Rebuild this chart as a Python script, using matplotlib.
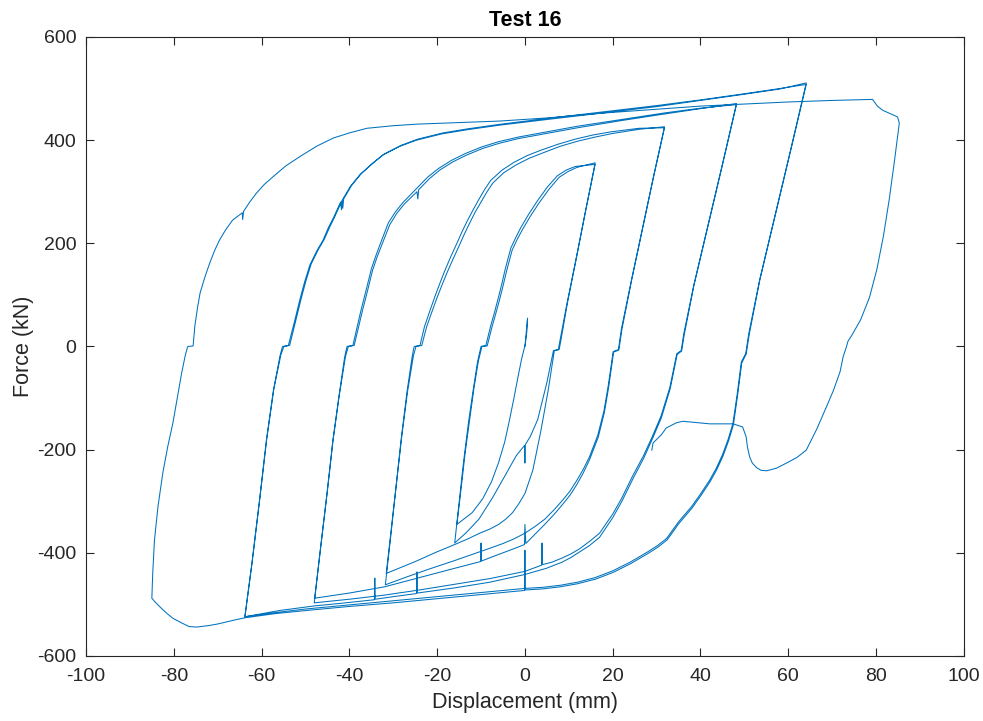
import matplotlib
matplotlib.use("Agg")
import matplotlib.pyplot as plt
import numpy as np

# ---------------- data: (displacement mm, force kN) per branch ----------------
V = [(0, 0), (0.3, 28), (0.6, 55), (0.45, 30), (0.1, 5), (-0.4, -12), (-0.8, -26), (-1.6, -60),
     (-2.5, -100), (-3.5, -142), (-4.6, -185), (-6, -225), (-7.6, -262), (-9.6, -295), (-12, -322), (-15.5, -345)]
U1a = [(-15.5, -345), (-14.6, -280), (-13.6, -205), (-12.6, -142), (-11.6, -80), (-10.6, -28), (-9.9, -3),
       (-9.8, 0), (-8.6, 1), (-7.5, 38), (-6.6, 65), (-5.8, 90), (-5, 117), (-4.3, 142), (-3.6, 165),
       (-2.9, 187), (-1.8, 207), (-0.6, 226), (1.2, 252), (3.2, 278), (5.5, 305), (7.8, 328), (9.8, 339),
       (11.8, 347), (14, 352), (16, 356)]
L1a = [(16, 356), (13.8, 262), (11.6, 168), (9.5, 80), (8.0, 12), (7.6, -6), (6.5, -8), (5, -70), (2.9, -142),
       (1.2, -175), (0.1, -190), (0, -226), (-0.1, -192), (-2, -212), (-4.5, -250), (-7.5, -295), (-10.5, -335),
       (-13.5, -362), (-16, -381)]
U1b = [(-16, -381), (-15.1, -310), (-14.0, -225), (-12.9, -150), (-11.8, -85), (-10.8, -30), (-10.1, -3),
       (-10.0, 0), (-8.9, 2), (-7.8, 40), (-6.9, 67), (-6.1, 93), (-5.3, 120), (-4.6, 146), (-3.9, 169),
       (-3.2, 191), (-2.1, 211), (-0.9, 231), (0.9, 257), (2.9, 283), (5.1, 309), (7.4, 331), (9.4, 342),
       (11.5, 349), (13.8, 351), (16, 353)]
X1 = [(16, 353), (13.8, 262), (11.7, 170), (9.7, 85), (8.2, 12), (7.8, -6), (6.7, -8), (5.3, -85), (3.6, -165),
      (1.8, -240), (0.8, -265), (0, -285), (-1.4, -305), (-2.8, -322), (-4.4, -335), (-6, -345), (-8, -354),
      (-10.3, -362), (-13, -373), (-16, -384), (-20, -398), (-25, -417), (-31.6, -440)]
U2a = [(-31.6, -440), (-30.4, -350), (-29.2, -260), (-28, -170), (-26.7, -85), (-25.4, -18), (-24.9, -2),
       (-24.8, 0), (-23.5, 2), (-22.4, 38), (-21.2, 67), (-20, 95), (-18.9, 119), (-17.8, 142), (-16.4, 169),
       (-15, 195), (-13.8, 218), (-12.6, 239), (-11.3, 261), (-10, 280), (-8.7, 299), (-7.3, 317), (-4.8, 337),
       (-2, 352), (1, 365), (4, 375), (8, 388), (12, 398), (16, 406), (20, 413), (26, 421), (31.8, 426)]
L2a = [(31.8, 426), (29.3, 330), (26.8, 230), (24.3, 130), (22, 35), (21.3, -6), (20.1, -10), (19, -75),
       (18, -125), (16.6, -172), (14.7, -214), (13.3, -238), (11.8, -260), (10.3, -280), (8.7, -297),
       (6.6, -317), (4.5, -335), (2.3, -349), (0, -362), (-2.5, -373), (-5, -382), (-7.6, -390), (-10.3, -398),
       (-16, -415), (-22, -432), (-27, -447), (-31.8, -462)]
U2b = [(-31.8, -462), (-30.6, -370), (-29.4, -275), (-28.2, -180), (-26.9, -90), (-25.7, -20), (-25.3, -2),
       (-25.2, 0), (-23.9, 2), (-22.9, 38), (-21.7, 68), (-20.5, 97), (-19.4, 122), (-18.3, 146), (-16.9, 174),
       (-15.5, 200), (-14.3, 223), (-13.1, 244), (-11.8, 265), (-10.5, 285), (-9.2, 304), (-7.8, 322),
       (-5.2, 342), (-2.5, 357), (0.5, 370), (3.5, 380), (7.5, 392), (11.5, 402), (15.5, 410), (19.5, 416),
       (26, 423), (31.8, 424)]
X2 = [(31.8, 424), (29.3, 328), (26.8, 228), (24.3, 128), (22.1, 33), (21.4, -7), (20.2, -11), (19.1, -78),
      (18.1, -128), (16.7, -176), (14.7, -220), (13.3, -245), (11.8, -268), (10.3, -288), (8.7, -305),
      (6.6, -326), (4.5, -345), (2.3, -364), (0.2, -382), (0, -345), (-0.1, -384), (-2.5, -392), (-5, -400),
      (-7.5, -408), (-9.9, -416), (-10, -381), (-10.1, -417), (-16, -430), (-24, -448), (-32, -466),
      (-40, -478), (-47.9, -488)]
U3a = [(-47.9, -488), (-46.4, -380), (-45, -280), (-43.7, -181), (-42.3, -95), (-40.9, -20), (-40.3, -2),
       (-40.2, 0), (-38.9, 2), (-37, 70), (-35.8, 110), (-34.7, 148), (-33.7, 173), (-32.7, 195), (-30.8, 236),
       (-29.2, 258), (-27.5, 276), (-24.6, 300), (-24.4, 286), (-24.2, 304), (-21.8, 325), (-19.4, 342),
       (-16.4, 358), (-13.3, 371), (-9.6, 384), (-5.8, 394), (-1.5, 403), (3, 410), (12, 424), (22, 438),
       (32, 451), (40, 461), (48.2, 471)]
L3a = [(48.2, 471), (44.9, 350), (41.7, 235), (38.5, 120), (36.2, 25), (35.6, -8), (34.6, -14), (33, -80),
       (31, -135), (29, -175), (27, -212), (24.6, -250), (22, -295), (20, -325), (17, -362), (14.7, -378),
       (12.5, -392), (10.5, -402), (8.5, -410), (6.2, -418), (4, -423), (3.9, -381), (3.8, -424), (0, -436),
       (-8, -450), (-16, -461), (-24, -472), (-32, -482), (-40, -490), (-48, -497)]
U3b = [(-48, -497), (-46.5, -385), (-45.1, -285), (-43.8, -185), (-42.4, -98), (-41.1, -22), (-40.6, -2),
       (-40.5, 0), (-39.2, 2), (-37.3, 72), (-36.1, 112), (-35, 150), (-34, 175), (-33, 198), (-31.1, 240),
       (-29.5, 261), (-27.8, 279), (-24.7, 306), (-22.2, 328), (-19.7, 345), (-16.7, 361), (-13.6, 374),
       (-9.8, 387), (-6, 397), (-1.5, 406), (3, 413), (12, 427), (22, 440), (32, 453), (40, 462), (48.2, 469)]
X3 = [(48.2, 469), (44.9, 348), (41.7, 233), (38.5, 118), (36.3, 23), (35.7, -9), (34.7, -15), (33.1, -82),
      (31.1, -138), (29.1, -178), (27.1, -216), (24.7, -255), (22.1, -300), (20, -332), (17, -370),
      (14.7, -386), (12.5, -398), (10.5, -409), (8.5, -418), (4.9, -430), (0, -442), (-8, -457), (-16, -468),
      (-24.5, -478), (-24.6, -437), (-24.7, -479), (-30, -485), (-34.1, -490), (-34.2, -449), (-34.3, -491),
      (-42, -498), (-48, -503), (-56, -512), (-63.8, -524)]
U4a = [(-63.8, -524), (-62.2, -420), (-60.5, -300), (-58.9, -181), (-57.3, -85), (-55.8, -18), (-55.3, -2),
       (-55.2, 0), (-53.9, 2), (-52.6, 45), (-51.3, 90), (-50.2, 125), (-49, 158), (-47.5, 184), (-46, 206),
       (-44.8, 230), (-43.6, 250), (-42, 280), (-41.8, 265), (-41.6, 284), (-39.8, 310), (-37.6, 333),
       (-35, 353), (-32.4, 371), (-28.5, 388), (-24.7, 400), (-19, 412), (-13.3, 420), (-5.8, 429), (5, 440),
       (17, 452), (30, 465), (40, 477), (50, 489), (58, 499), (64.1, 511)]
L4a = [(64.1, 511), (60.5, 380), (57, 255), (53.5, 130), (51, 25), (50.3, -14), (49.3, -30), (48.4, -90),
       (47.4, -149), (46.3, -180), (45, -210), (43.6, -236), (42.1, -259), (40, -286), (38, -310), (35, -340),
       (32.3, -372), (30.2, -386), (28, -398), (24, -418), (20, -435), (16, -448), (12, -457), (8, -463),
       (4, -467), (0, -469), (-10, -477), (-20, -485), (-30, -493), (-40, -501), (-50, -509), (-57, -516),
       (-63.8, -524)]
U4b = [(-63.8, -524), (-62.1, -415), (-60.4, -295), (-58.8, -178), (-57.2, -82), (-55.6, -16), (-55.0, -2),
       (-54.9, 0), (-53.6, 2), (-52.3, 47), (-51.0, 92), (-49.9, 127), (-48.7, 160), (-47.2, 186),
       (-45.7, 208), (-44.5, 231), (-43.3, 252), (-41.7, 282), (-41.5, 268), (-41.3, 286), (-39.5, 312),
       (-37.3, 335), (-34.7, 355), (-32.1, 373), (-28.2, 390), (-24.4, 402), (-18.7, 414), (-13, 422),
       (-5.5, 431), (5, 442), (17, 454), (30, 467), (40, 478), (50, 490), (58, 500), (64.1, 508)]
X4 = [(64.1, 508), (60.5, 378), (57, 253), (53.5, 128), (51.1, 23), (50.4, -15), (49.4, -32), (48.5, -92),
      (47.5, -152), (46.4, -183), (45.1, -213), (43.7, -239), (42.2, -262), (40.1, -289), (38.1, -313),
      (35.1, -343), (32.4, -375), (30.3, -389), (28.1, -401), (24.1, -421), (20.1, -438), (16.1, -451),
      (12, -460), (8, -466), (4, -470), (0.1, -472), (0, -395), (-0.1, -473), (-10, -481), (-20, -489),
      (-30, -497), (-40, -504), (-50, -512), (-57, -518), (-63.8, -526), (-66, -530), (-68, -534),
      (-70, -538), (-72, -541), (-74.8, -544), (-76.5, -543), (-78.2, -536), (-80.2, -527), (-81.5, -518),
      (-82.4, -511), (-83.5, -502), (-84.4, -494), (-85, -488)]
UF = [(-85, -488), (-84.8, -440), (-84.4, -375), (-83.6, -310), (-82.5, -245), (-81.4, -195), (-80.2, -148),
      (-79.2, -100), (-78.2, -51), (-77.4, -18), (-76.9, -2), (-76.8, 0), (-75.6, 1), (-75.2, 40), (-74.6, 75),
      (-74, 104), (-72.9, 135), (-71.8, 162), (-70.7, 186), (-69.6, 206), (-68.2, 226), (-66.6, 245),
      (-64.4, 259), (-64.3, 246), (-64.1, 262), (-62.7, 280), (-61.2, 297), (-59.4, 314), (-57.4, 329),
      (-54.5, 350), (-51.3, 368), (-47.5, 388), (-43.7, 404), (-40, 414), (-36, 423), (-30, 428),
      (-24.7, 431), (-15, 434), (-5.8, 437), (5, 443), (17, 452), (30, 460), (40, 466), (50, 470), (60, 474),
      (70, 477), (75, 478), (79.2, 479), (80.3, 466), (81.5, 458), (84.9, 445), (85.3, 433)]
LF = [(85.3, 433), (84.2, 360), (83, 285), (81.7, 215), (80.2, 150), (78.5, 95), (76.5, 52), (74.5, 22),
      (73.6, 10), (73.2, -2), (72.5, -20), (71.8, -49), (70.3, -85), (68.7, -117), (66.5, -160), (64.1, -201),
      (62, -215), (59.6, -226), (57.3, -236), (55.1, -241), (53.8, -240), (52.8, -235), (51.8, -226),
      (51.2, -214), (50.7, -195), (50.4, -175), (49.6, -156), (47.4, -150), (42.1, -150), (36, -145),
      (34.5, -148), (32.2, -158), (31.1, -171), (29.2, -187), (28.9, -201)]

branches = [V, U1a, L1a, U1b, X1, U2a, L2a, U2b, X2, U3a, L3a, U3b, X3, U4a, L4a, U4b, X4, UF, LF]

x_ticks = [-100, -80, -60, -40, -20, 0, 20, 40, 60, 80, 100]
y_ticks = [-600, -400, -200, 0, 200, 400, 600]
title_text = "Test 16"
x_label = "Displacement (mm)"
y_label = "Force (kN)"

# ---------------- build path ----------------
path = []
for b in branches:
    if path and path[-1] == b[0]:
        path.extend(b[1:])
    else:
        path.extend(b)
disp = np.array([p[0] for p in path])
force = np.array([p[1] for p in path])

# ---------------- plot ----------------
plt.rcParams['font.family'] = ['Liberation Sans', 'DejaVu Sans']
plt.rcParams['axes.unicode_minus'] = False
fig = plt.figure(figsize=(9.83, 7.21), dpi=100)
ax = fig.add_axes([0.0875, 0.0902, 0.893, 0.8585])
ax.plot(disp, force, color='#0072BD', lw=0.75, solid_joinstyle='round')

ax.set_xlim(-100, 100)
ax.set_ylim(-600, 600)
ax.set_xticks(x_ticks)
ax.set_yticks(y_ticks)
dark = '#262626'
ax.tick_params(direction='in', length=6, width=0.8, colors=dark, labelsize=14,
               top=True, right=True, pad=9)
ax.tick_params(axis='y', pad=7)
for s in ax.spines.values():
    s.set_color(dark)
    s.set_linewidth(0.8)
ax.set_title(title_text, fontsize=15.5, fontweight='bold', color='black', pad=8)
ax.set_xlabel(x_label, fontsize=15.5, color=dark, labelpad=5)
ax.set_ylabel(y_label, fontsize=15.5, color=dark, labelpad=2)

fig.savefig("out.png", dpi=100)
